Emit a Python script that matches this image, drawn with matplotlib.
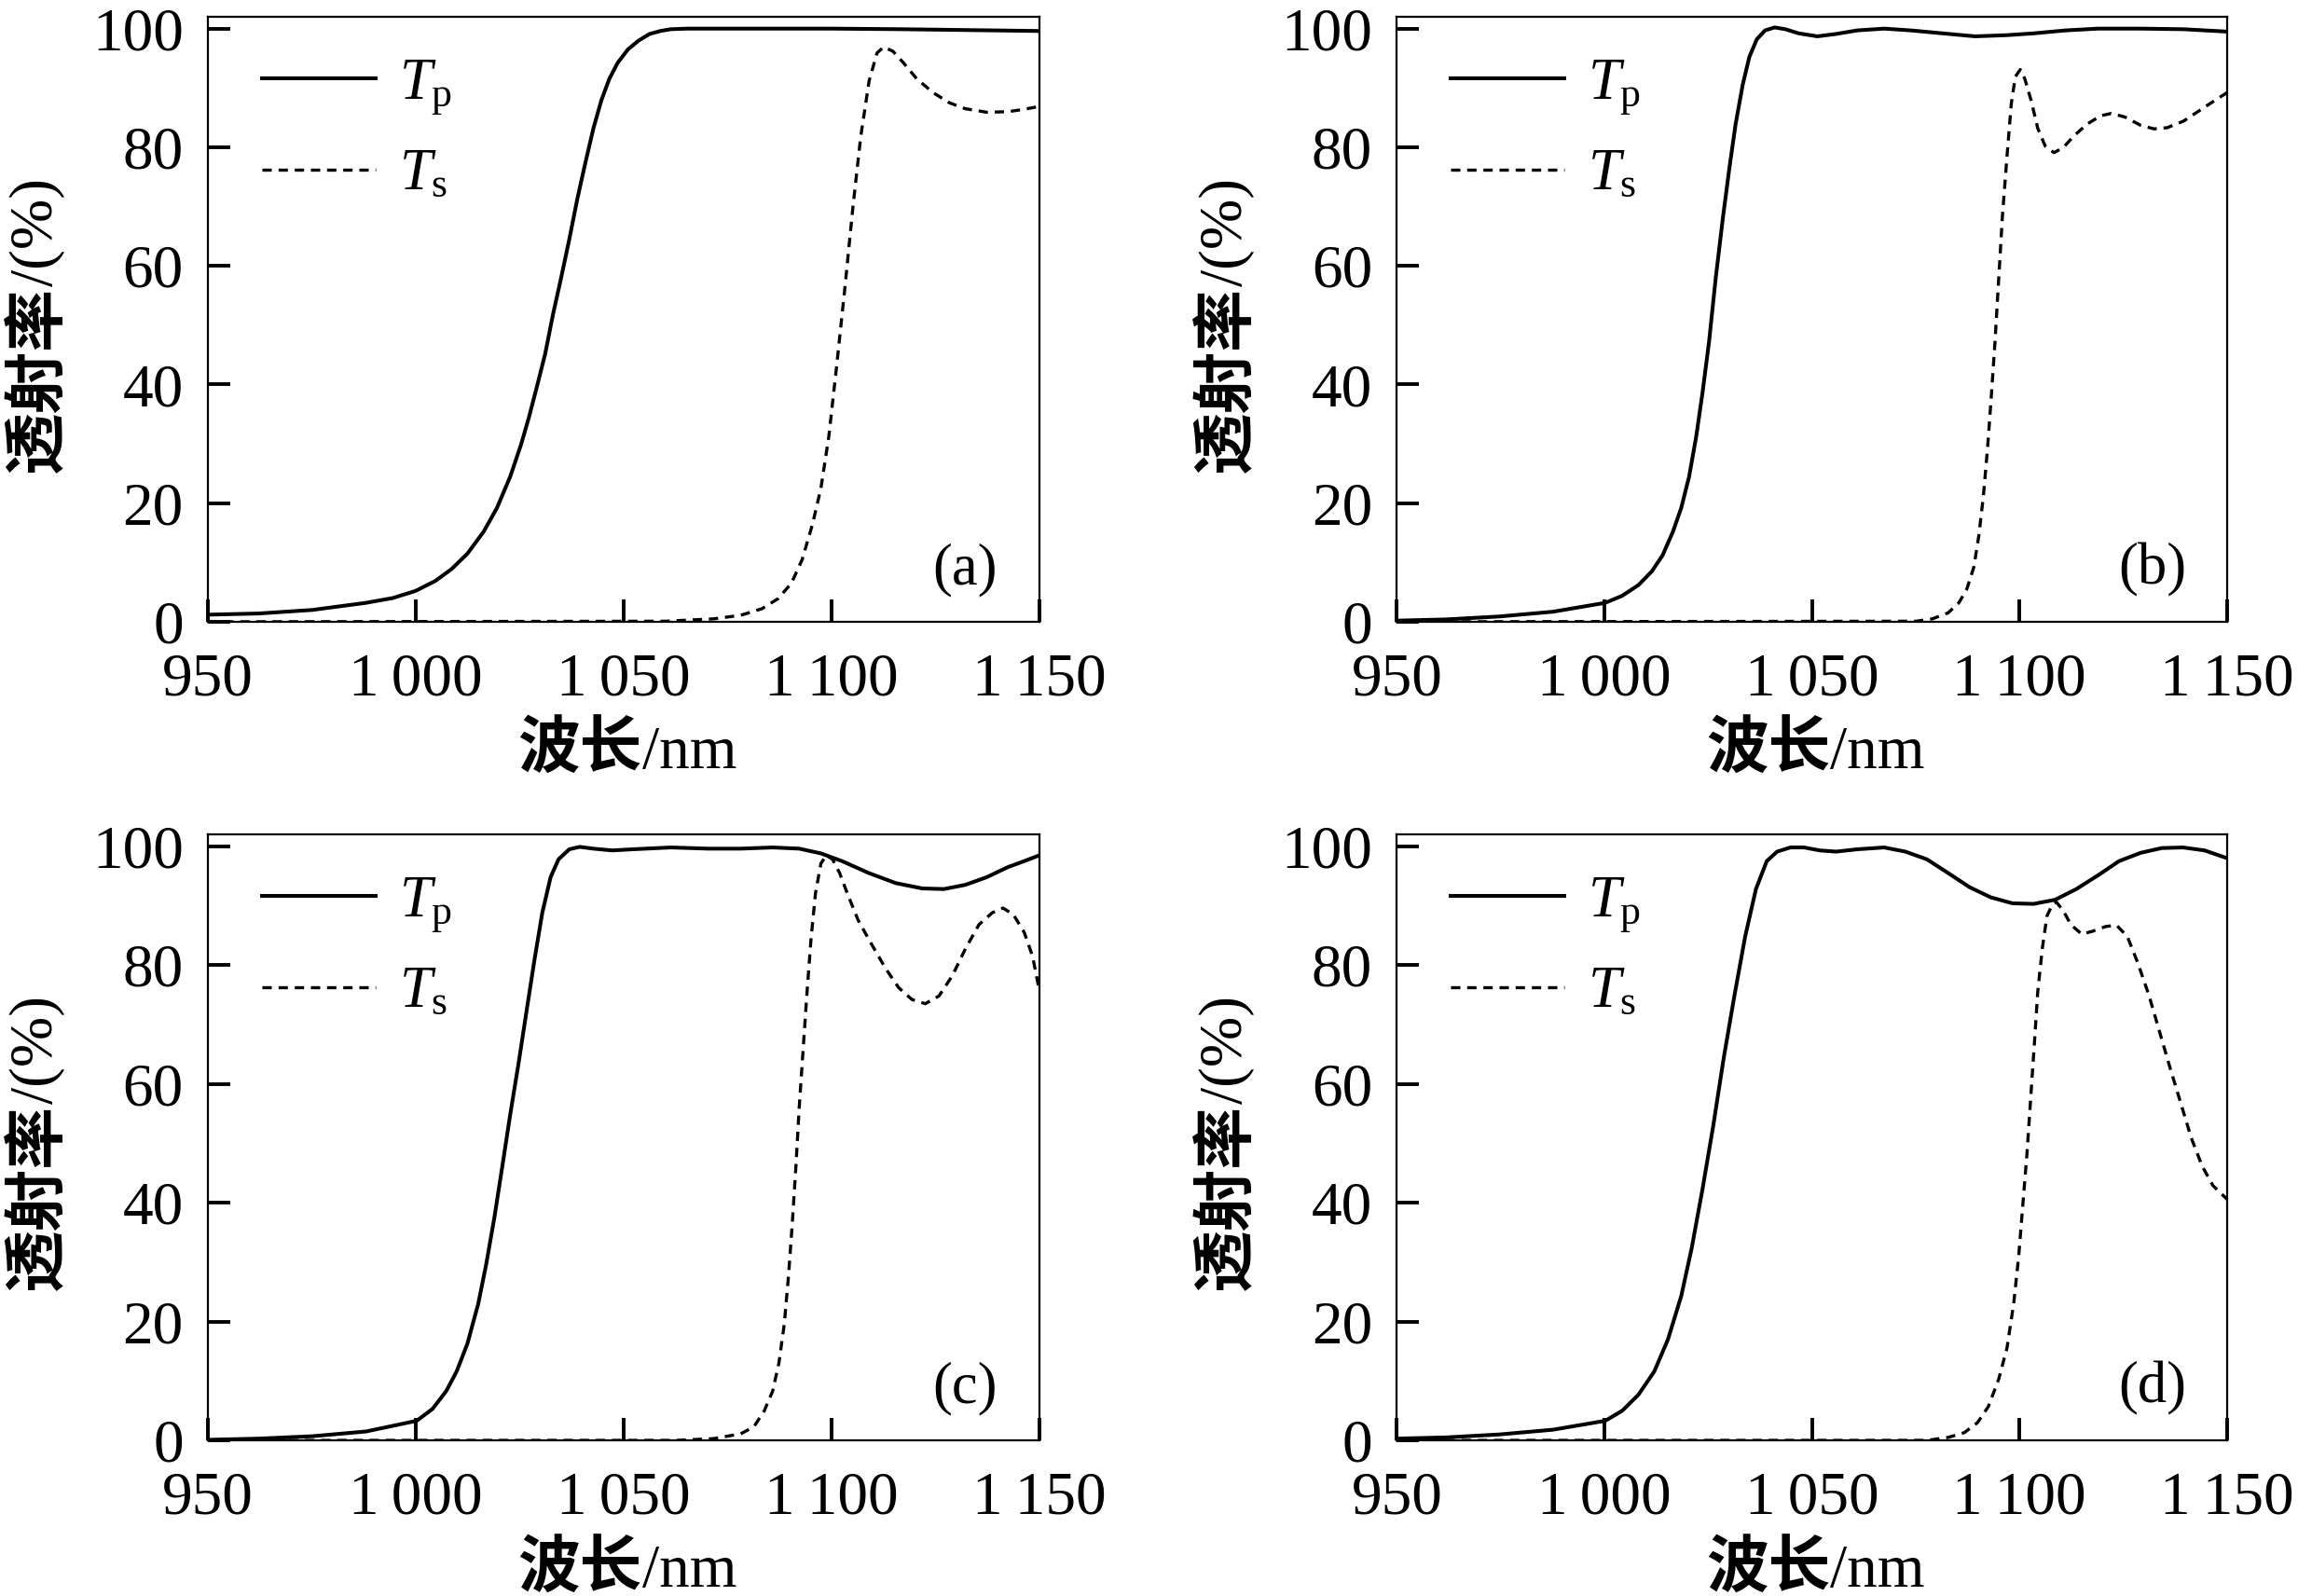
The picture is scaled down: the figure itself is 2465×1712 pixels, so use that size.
"""
四种膜系的 p / s 偏振透射率曲线（2x2 子图）
"""

import matplotlib

matplotlib.use("Agg")
import matplotlib.pyplot as plt

plt.rcParams.update(
    {
        "font.family": ["Liberation Serif", "DejaVu Serif"],
        "font.size": 47,
        "mathtext.fontset": "custom",
        "mathtext.rm": "Liberation Serif",
        "mathtext.it": "Liberation Serif:italic",
        "mathtext.bf": "Liberation Serif:bold",
        "axes.unicode_minus": False,
        "axes.linewidth": 1.6,
    }
)

CJK = ["Noto Sans CJK SC", "DejaVu Sans"]

# ─── 数据 ────────────────────────────────────

XTICKS = [950, 1000, 1050, 1100, 1150]
XTICK_LABELS = ["950", "1\u2009000", "1\u2009050", "1\u2009100", "1\u2009150"]
YTICKS = [0, 20, 40, 60, 80, 100]
PANEL_TAGS = ["(a)", "(b)", "(c)", "(d)"]

# (a)
wl_a_p = [950, 962.2, 975.1, 988.0, 994.4, 999.9, 1004.7, 1008.6, 1012.4, 1016.3,
          1019.5, 1022.7, 1025.3, 1027.2, 1029.2, 1031.1, 1033.0, 1034.9, 1036.9,
          1038.8, 1040.7, 1042.7, 1044.6, 1046.5, 1048.5, 1051.0, 1053.6, 1056.2,
          1058.8, 1061.3, 1065.2, 1080, 1100, 1117, 1150]
tp_a = [1.2, 1.4, 2.0, 3.2, 4.0, 5.2, 6.9, 8.9, 11.5, 15.2,
        19.2, 24.5, 29.9, 34.5, 39.9, 45.2, 51.9, 57.9, 64.5,
        71.2, 77.2, 83.2, 87.9, 91.5, 94.2, 96.5, 98.0, 99.1,
        99.6, 99.9, 100.0, 100.0, 100.0, 99.9, 99.6]
wl_a_s = [950, 1060, 1071.6, 1078.1, 1083.2, 1087.1, 1090.3, 1092.9, 1095.4, 1097.4,
          1099.3, 1101.2, 1103.2, 1105.1, 1107.0, 1109.0, 1110.9, 1112.5, 1114.7,
          1117.3, 1120.5, 1124.4, 1128.3, 1132.1, 1137.3, 1142.4, 1146.3, 1150]
ts_a = [0.0, 0.1, 0.5, 1.1, 2.2, 3.9, 6.5, 10.5, 16.5, 22.5,
        31.2, 43.2, 56.5, 69.9, 81.9, 91.2, 95.9, 96.9, 96.2,
        94.2, 91.5, 89.2, 87.5, 86.5, 85.9, 86.0, 86.4, 86.9]

# (b)
wl_b_p = [950, 961.8, 974.7, 987.6, 1000.2, 1004.3, 1008.2, 1011.4, 1014.0, 1016.5,
          1018.5, 1020.4, 1022.1, 1023.6, 1025.2, 1026.8, 1028.5, 1030.1, 1031.6,
          1033.3, 1034.9, 1036.7, 1038.7, 1041.0, 1043.6, 1046.8, 1051.3, 1055.8,
          1060.9, 1067.4, 1073.8, 1081.5, 1089.3, 1097.0, 1103.4, 1111.1, 1118.9,
          1129.2, 1139.4, 1150]
tp_b = [0.2, 0.4, 0.9, 1.7, 3.2, 4.4, 6.2, 8.5, 11.2, 15.2,
        19.2, 24.5, 31.2, 38.5, 47.2, 57.9, 67.9, 76.5, 83.9,
        90.5, 95.2, 98.2, 99.7, 100.2, 99.9, 99.2, 98.7, 99.1,
        99.7, 100.0, 99.7, 99.2, 98.7, 98.9, 99.2, 99.7, 100.0,
        100.0, 99.9, 99.5]
wl_b_s = [950, 1075.1, 1079.0, 1082.8, 1085.4, 1087.3, 1089.0, 1090.2, 1091.3, 1092.3,
          1093.2, 1094.1, 1095.0, 1095.9, 1097.0, 1098.0, 1099.0, 1100.2, 1101.3,
          1102.8, 1104.4, 1106.2, 1108.3, 1110.5, 1113.1, 1116.3, 1119.5, 1122.1,
          1125.4, 1129.2, 1132.4, 1135.6, 1139.5, 1143.4, 1147.3, 1150]
ts_b = [0.0, 0.1, 0.5, 1.5, 3.2, 5.5, 9.2, 14.5, 21.2, 29.2,
        37.9, 47.2, 57.9, 68.5, 78.5, 87.2, 91.9, 93.1, 91.5,
        87.9, 83.2, 80.2, 79.1, 79.9, 81.9, 83.9, 85.3, 85.7,
        85.1, 83.7, 83.1, 83.3, 84.4, 86.2, 88.0, 89.2]

# (c)
wl_c_p = [950, 962.2, 975.1, 988.0, 1000.2, 1004.0, 1007.3, 1009.8, 1012.4, 1015.0,
          1016.9, 1018.9, 1020.8, 1022.7, 1024.7, 1026.6, 1028.5, 1030.4, 1032.4,
          1034.3, 1036.9, 1039.4, 1042.7, 1047.2, 1052.3, 1061.3, 1070.3, 1078.1,
          1085.8, 1092.2, 1097.4, 1102.5, 1108.9, 1115.4, 1121.8, 1127.0, 1132.1,
          1137.3, 1142.4, 1146.3, 1150]
tp_c = [0.1, 0.3, 0.7, 1.5, 3.3, 5.3, 8.3, 11.6, 16.3, 23.0,
        29.6, 37.6, 46.2, 54.9, 63.5, 72.2, 80.8, 88.8, 94.8,
        97.8, 99.5, 99.9, 99.6, 99.3, 99.5, 99.8, 99.6, 99.6,
        99.8, 99.6, 98.8, 97.5, 95.5, 93.8, 92.9, 92.8, 93.5,
        94.8, 96.5, 97.5, 98.5]
wl_c_s = [950, 1062.6, 1071.6, 1078.1, 1081.3, 1083.8, 1085.8, 1087.3, 1088.6, 1089.6,
          1090.5, 1091.4, 1092.2, 1093.1, 1094.0, 1095.0, 1096.1, 1097.4, 1098.7,
          1100.2, 1101.9, 1103.9, 1106.4, 1109.6, 1112.9, 1116.1, 1119.3, 1122.5,
          1125.8, 1129.0, 1132.2, 1135.4, 1138.6, 1141.2, 1143.7, 1146.3, 1148.3, 1150]
ts_c = [0.0, 0.0, 0.3, 1.1, 2.3, 5.0, 8.3, 13.0, 19.6, 27.6,
        36.3, 46.2, 56.2, 65.5, 74.8, 84.2, 92.1, 97.1, 98.5,
        97.8, 95.5, 91.8, 87.5, 83.5, 79.5, 76.2, 74.2, 73.5,
        74.8, 78.2, 82.8, 86.8, 88.8, 89.6, 88.5, 85.5, 81.5, 75.5]

# (d)
wl_d_p = [950, 961.8, 974.7, 987.6, 1000.2, 1004.3, 1008.2, 1012.0, 1015.3, 1018.5,
          1021.0, 1023.6, 1026.2, 1028.7, 1031.3, 1033.9, 1036.5, 1039.1, 1041.6,
          1044.8, 1048.1, 1051.9, 1055.8, 1061.0, 1067.4, 1072.5, 1077.7, 1082.8,
          1088.0, 1093.1, 1098.3, 1103.4, 1108.6, 1113.7, 1118.9, 1124.0, 1129.2,
          1134.3, 1139.4, 1144.6, 1150]
tp_d = [0.3, 0.5, 1.0, 1.8, 3.3, 5.0, 7.7, 11.6, 17.0, 24.3,
        32.3, 42.2, 52.9, 64.2, 74.8, 84.8, 92.8, 97.5, 99.1,
        99.8, 99.8, 99.3, 99.1, 99.5, 99.8, 99.1, 97.8, 95.5,
        93.1, 91.4, 90.4, 90.3, 91.0, 92.8, 95.1, 97.5, 98.9,
        99.7, 99.8, 99.3, 98.0]
wl_d_s = [950, 1077.7, 1082.8, 1086.7, 1089.9, 1092.5, 1095.0, 1097.0, 1098.6, 1099.8,
          1100.8, 1101.8, 1102.7, 1103.6, 1104.4, 1105.5, 1106.6, 1107.9, 1108.9,
          1110.5, 1112.4, 1115.0, 1117.6, 1120.8, 1123.4, 1126.0, 1128.6, 1131.2,
          1133.7, 1136.2, 1138.8, 1141.4, 1144.0, 1146.6, 1150]
ts_d = [0.0, 0.0, 0.5, 1.3, 3.0, 5.7, 10.3, 15.6, 23.0, 30.9,
        39.6, 48.2, 57.6, 66.9, 75.5, 82.8, 88.2, 90.2, 90.6,
        89.2, 86.8, 85.2, 85.7, 86.5, 86.7, 84.8, 80.2, 74.9,
        68.9, 62.9, 56.9, 50.9, 46.2, 42.9, 40.6]

PANELS = [
    (wl_a_p, tp_a, wl_a_s, ts_a),
    (wl_b_p, tp_b, wl_b_s, ts_b),
    (wl_c_p, tp_c, wl_c_s, ts_c),
    (wl_d_p, tp_d, wl_d_s, ts_d),
]

# 子图位置（figure 坐标）
AX_POS = [
    [0.0905, 0.6104, 0.3619, 0.3791],
    [0.6079, 0.6104, 0.3612, 0.3791],
    [0.0905, 0.0975, 0.3619, 0.3797],
    [0.6079, 0.0975, 0.3612, 0.3797],
]


def split_label(ax, x, y, cjk, latin, rotation=0):
    """中文（粗体）+ 西文（常规）拼接的坐标轴标题，(x, y) 为两段的分界点。"""
    if rotation:
        ax.text(x, y, cjk, transform=ax.transAxes, rotation=90, ha="center",
                va="top", family=CJK, fontweight="bold", fontsize=48)
        ax.text(x, y, latin, transform=ax.transAxes, rotation=90, ha="center",
                va="bottom", fontsize=47)
    else:
        ax.text(x, y, cjk, transform=ax.transAxes, ha="right", va="baseline",
                family=CJK, fontweight="bold", fontsize=48)
        ax.text(x, y, latin, transform=ax.transAxes, ha="left", va="baseline",
                fontsize=47)


fig = plt.figure(figsize=(24.65, 17.12), dpi=100)
fig.patch.set_facecolor("white")

for pos, (wp, tp, ws, ts), tag in zip(AX_POS, PANELS, PANEL_TAGS):
    ax = fig.add_axes(pos)
    ax.plot(wp, tp, color="black", lw=2.9, ls="-", label=r"$T_\mathrm{p}$")
    ax.plot(ws, ts, color="black", lw=2.4, ls=(0, (3.0, 2.2)), label=r"$T_\mathrm{s}$")

    ax.set_xlim(950, 1150)
    ax.set_ylim(0, 102)
    ax.set_xticks(XTICKS)
    ax.set_xticklabels(XTICK_LABELS)
    ax.set_yticks(YTICKS)
    ax.tick_params(
        direction="in", length=17, width=2.8, labelsize=47,
        top=False, right=False,
    )
    ax.tick_params(axis="x", pad=24)
    ax.tick_params(axis="y", pad=19)

    split_label(ax, 0.522, -0.242, "波长", "/nm")
    split_label(ax, -0.205, 0.555, "透射率", "/(%)", rotation=90)

    ax.legend(
        loc="upper left",
        bbox_to_anchor=(0.065, 0.933),
        frameon=False,
        fontsize=45,
        handlelength=1.95,
        handletextpad=0.4,
        labelspacing=0.55,
        borderpad=0,
        borderaxespad=0,
    )
    ax.text(0.91, 0.085, tag, transform=ax.transAxes, ha="center", va="center",
            fontsize=45)

fig.savefig("out.png", dpi=100, facecolor="white")
